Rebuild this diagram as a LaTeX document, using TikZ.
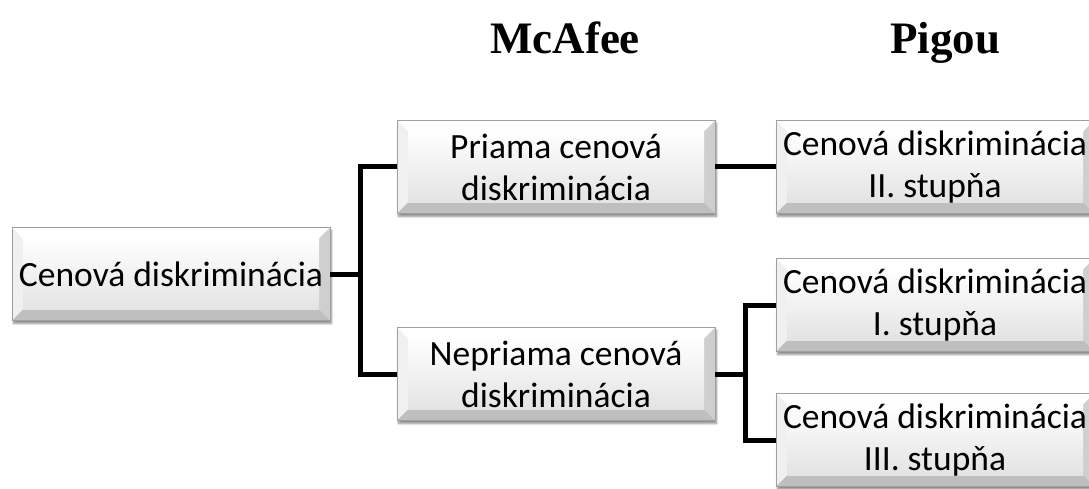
\documentclass[tikz,border=0pt]{standalone}
\usepackage{fontspec}
\setmainfont{Carlito}
\newfontfamily\titlefont{Liberation Serif}
\usetikzlibrary{calc,shadows.blur}

\tikzset{
  bevelbox/.style={
    minimum width=318pt, minimum height=93pt, inner sep=0pt,
    align=center, font=\fontsize{35.5}{42}\selectfont,
    draw=gray!75, line width=0.8pt,
    top color=white, bottom color=gray!22,
    blur shadow={shadow xshift=1.5pt, shadow yshift=-3pt, shadow opacity=45,
                 shadow blur steps=6, shadow blur radius=2pt},
    path picture={
      \coordinate (pa) at (path picture bounding box.north west);
      \coordinate (pb) at (path picture bounding box.north east);
      \coordinate (pc) at (path picture bounding box.south east);
      \coordinate (pd) at (path picture bounding box.south west);
      \coordinate (qa) at ($(pa)+(11pt,-11pt)$);
      \coordinate (qb) at ($(pb)+(-11pt,-11pt)$);
      \coordinate (qc) at ($(pc)+(-11pt,11pt)$);
      \coordinate (qd) at ($(pd)+(11pt,11pt)$);
      \fill[white] (pa) -- (pb) -- (qb) -- (qa) -- cycle;
      \fill[gray!12] (pa) -- (qa) -- (qd) -- (pd) -- cycle;
      \fill[gray!38] (pb) -- (pc) -- (qc) -- (qb) -- cycle;
      \fill[gray!50] (pd) -- (qd) -- (qc) -- (pc) -- cycle;
      \shade[top color=white, bottom color=gray!22] (qa) rectangle (qc);
    }
  },
  link/.style={line width=5pt, black},
  heading/.style={anchor=base, font=\titlefont\bfseries\fontsize{45}{50}\selectfont}
}

\begin{document}
\begin{tikzpicture}[x=1pt, y=-1pt]
  \useasboundingbox (0,0) rectangle (1089,489);

  % column headings
  \node[heading] (mcafee) at (565,54) {McAfee};
  \node[heading] (pigou) at (945,54) {Pigou};

  % boxes
  \node[bevelbox] (root) at (171,274) {Cenová diskriminácia};
  \node[bevelbox] (priama) at (556,167) {Priama cenová\\diskriminácia};
  \node[bevelbox] (nepriama) at (556,374) {Nepriama cenová\\diskriminácia};
  \node[bevelbox] (ii) at (935,167) {Cenová diskriminácia\\II. stupňa};
  \node[bevelbox] (i) at (935,305) {Cenová diskriminácia\\I. stupňa};
  \node[bevelbox] (iii) at (935,440) {Cenová diskriminácia\\III. stupňa};

  % junction points of the connectors
  \coordinate (j1) at (360,274);
  \coordinate (j2) at (745,374);

  % connectors
  \draw[link] (root.east) -- (j1);
  \draw[link] (priama.west) -| (j1) |- (nepriama.west);
  \draw[link] (priama.east) -- (ii.west);
  \draw[link] (nepriama.east) -- (j2);
  \draw[link] (i.west) -| (j2) |- (iii.west);
\end{tikzpicture}
\end{document}
